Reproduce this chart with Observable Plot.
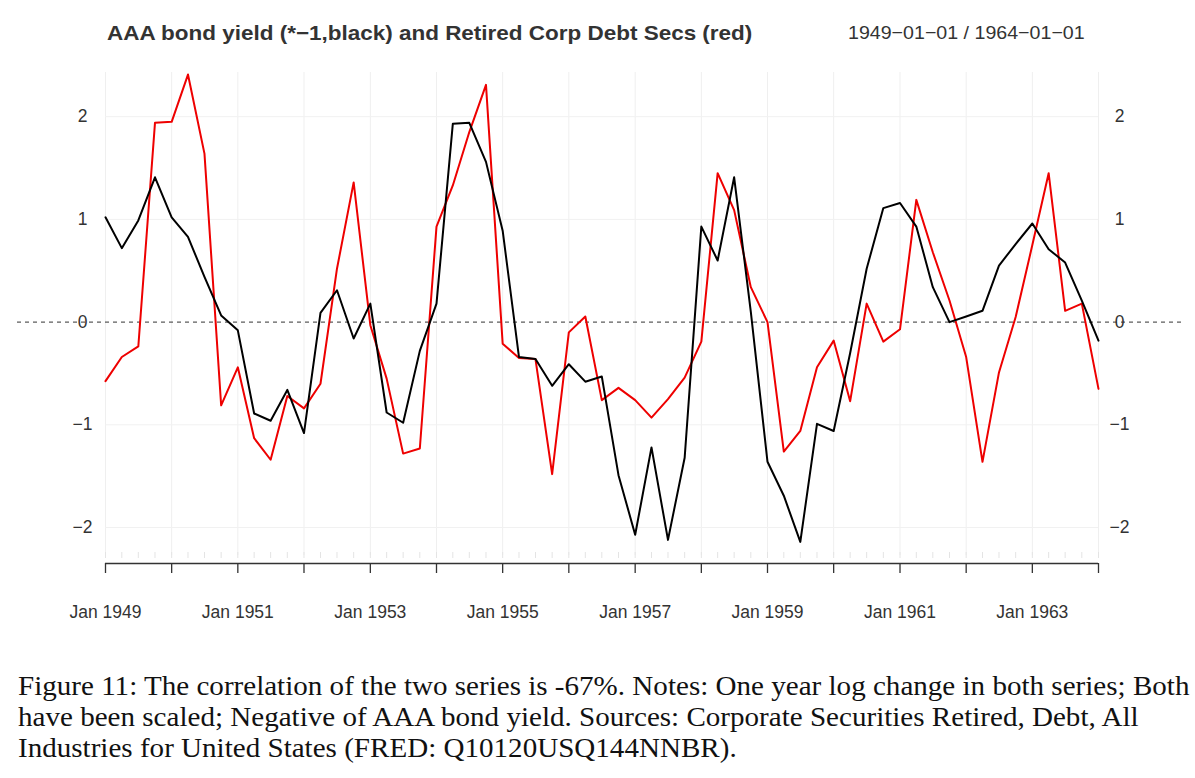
<!DOCTYPE html>
<html>
<head>
<meta charset="utf-8">
<script src="https://cdn.jsdelivr.net/npm/d3@7"></script>
<script src="https://cdn.jsdelivr.net/npm/@observablehq/plot@0.6"></script>
<style>
  html, body { margin: 0; padding: 0; background: #fff; }
  #wrap { position: relative; width: 1195px; height: 778px; overflow: hidden; }
  #title { position: absolute; left: 107px; top: 21px; font-family: "Liberation Sans", Arial, sans-serif; font-weight: bold; font-size: 21px; color: #333; white-space: nowrap; transform: scaleX(1.07); transform-origin: left center; }
  #range { position: absolute; left: 848px; top: 22px; font-family: "Liberation Sans", Arial, sans-serif; font-size: 18.5px; color: #333; white-space: nowrap; transform: scaleX(1.06); transform-origin: left center; }
  #chart { position: absolute; left: 0; top: 0; }
  #caption { position: absolute; left: 18px; top: 671px; font-family: "Liberation Serif", "Times New Roman", serif; font-size: 26.5px; line-height: 31px; color: #111; white-space: nowrap; transform: scaleX(1.097); transform-origin: left top; }
</style>
</head>
<body>
<div id="wrap">
  <div id="chart"></div>
  <div id="title">AAA bond yield (*−1,black) and Retired Corp Debt Secs (red)</div>
  <div id="range">1949−01−01 / 1964−01−01</div>
  <div id="caption">Figure 11: The correlation of the two series is -67%. Notes: One year log change in both series; Both<br>have been scaled; Negative of AAA bond yield. Sources: Corporate Securities Retired, Debt, All<br>Industries for United States (FRED: Q10120USQ144NNBR).</div>
</div>
<script>
// Quarterly observations, 1949 Q1 .. 1964 Q1
const startDate = new Date(Date.UTC(1949, 0, 1));
const endDate = new Date(Date.UTC(1964, 0, 1));
const quarters = d3.utcMonth.every(3).range(startDate, new Date(Date.UTC(1964, 0, 2)));

// Retired Corp Debt Secs (scaled, one-year log change) - red
const retiredDebt = [
  -0.575, -0.34, -0.237, 1.94,
  1.95, 2.41, 1.64, -0.81,
  -0.44, -1.13, -1.34, -0.72,
  -0.84, -0.60, 0.52, 1.36,
  -0.03, -0.55, -1.28, -1.23,
  0.93, 1.33, 1.85, 2.31,
  -0.21, -0.35, -0.36, -1.48,
  -0.10, 0.055, -0.76, -0.64,
  -0.76, -0.93, -0.75, -0.54,
  -0.19, 1.45, 1.09, 0.34,
  0.0, -1.26, -1.06, -0.44,
  -0.18, -0.77, 0.18, -0.19,
  -0.07, 1.19, 0.68, 0.21,
  -0.34, -1.36, -0.49, 0.05,
  0.75, 1.45, 0.11, 0.18,
  -0.65
];

// AAA bond yield (*-1, scaled, one-year log change) - black
const aaaYieldNeg = [
  1.02, 0.72, 0.99, 1.41,
  1.02, 0.83, 0.44, 0.065,
  -0.08, -0.89, -0.96, -0.66,
  -1.08, 0.09, 0.31, -0.16,
  0.18, -0.88, -0.98, -0.28,
  0.18, 1.93, 1.94, 1.56,
  0.89, -0.34, -0.36, -0.62,
  -0.41, -0.58, -0.53, -1.49,
  -2.07, -1.22, -2.12, -1.32,
  0.93, 0.60, 1.41, 0.10,
  -1.36, -1.69, -2.14, -0.99,
  -1.06, -0.30, 0.52, 1.11,
  1.16, 0.93, 0.34, 0.0,
  0.055, 0.11, 0.55, 0.76,
  0.96, 0.71, 0.58, 0.21,
  -0.18
];

const yTicks = [-2, -1, 0, 1, 2];
const yearTicks = d3.utcYear.range(startDate, new Date(Date.UTC(1964, 0, 2)));
const labelYears = [1949, 1951, 1953, 1955, 1957, 1959, 1961, 1963];
const yDomain = [-2.35, 2.43];

const redData = quarters.map((d, i) => ({date: d, value: retiredDebt[i]}));
const blackData = quarters.map((d, i) => ({date: d, value: aaaYieldNeg[i]}));

const fmtY = d => d < 0 ? "−" + Math.abs(d) : String(d);

const chart = Plot.plot({
  width: 1195,
  height: 650,
  marginLeft: 105,
  marginRight: 97,
  marginTop: 72,
  marginBottom: 87,
  style: {fontFamily: "'Liberation Sans', Arial, sans-serif", fontSize: "17.5px", color: "#333", background: "#fff"},
  x: {type: "utc", domain: [startDate, endDate], label: null},
  y: {domain: yDomain, label: null},
  marks: [
    // faint year grid
    Plot.ruleX(yearTicks, {stroke: "#efefef", strokeWidth: 1, insetBottom: 8}),
    // faint horizontal grid
    Plot.ruleY(yTicks.filter(d => d !== 0), {x1: startDate, x2: endDate, stroke: "#f1f1f1", strokeWidth: 1}),
    // faint quarterly minor ticks
    Plot.ruleX(quarters, {stroke: "#e4e4e4", strokeWidth: 1, insetTop: 480, insetBottom: 5}),
    // zero dashed line across the figure
    Plot.ruleY([0], {stroke: "#333", strokeWidth: 1, strokeDasharray: "4,4", insetLeft: -88, insetRight: -85}),
    // axis line
    Plot.ruleY([yDomain[0]], {x1: startDate, x2: endDate, stroke: "#333", strokeWidth: 1.3}),
    Plot.axisX({
      ticks: yearTicks,
      tickSize: 10,
      tickPadding: 32,
      stroke: "#333",
      strokeWidth: 1.3,
      fontSize: 17.5,
      fill: "#333",
      label: null,
      tickFormat: d => labelYears.includes(d.getUTCFullYear()) ? "Jan " + d.getUTCFullYear() : ""
    }),
    Plot.axisY({anchor: "left", ticks: yTicks, tickSize: 0, tickPadding: 23, textAnchor: "middle", fontSize: 17.5, fill: "#333", label: null, tickFormat: fmtY}),
    Plot.axisY({anchor: "right", ticks: yTicks, tickSize: 0, tickPadding: 21, textAnchor: "middle", fontSize: 17.5, fill: "#333", label: null, tickFormat: fmtY}),
    Plot.lineY(redData, {x: "date", y: "value", stroke: "#ee0000", strokeWidth: 2}),
    Plot.lineY(blackData, {x: "date", y: "value", stroke: "#000", strokeWidth: 2})
  ]
});
document.getElementById("chart").appendChild(chart);
</script>
</body>
</html>
